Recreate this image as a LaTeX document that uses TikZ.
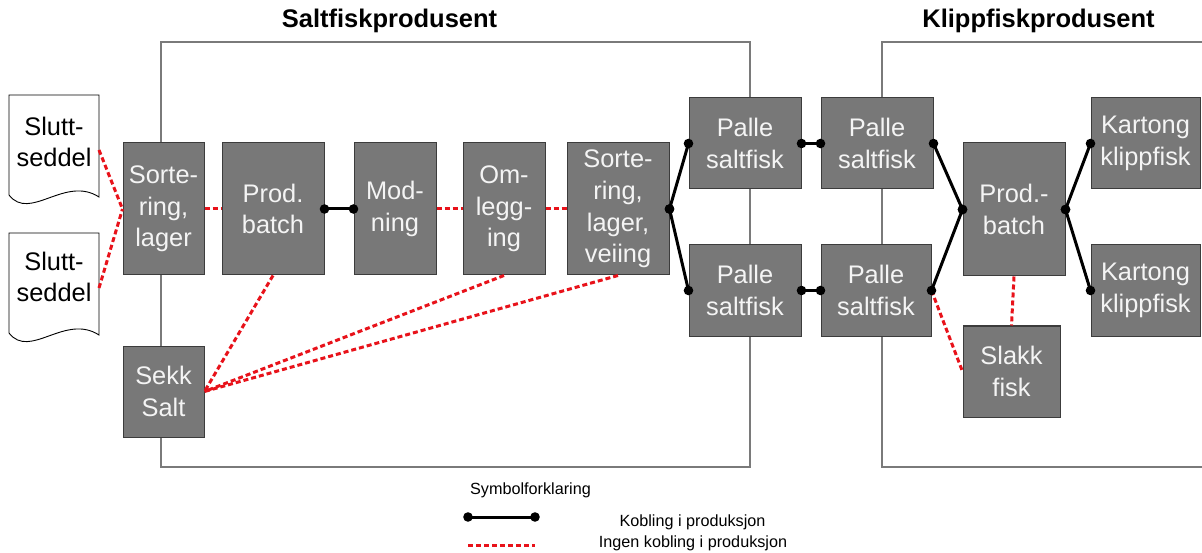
\documentclass[tikz,border=0pt]{standalone}
\usepackage{fontspec}
\setmainfont{Liberation Sans}
\definecolor{boxfill}{HTML}{787878}
\definecolor{boxline}{HTML}{3C3C3C}
\definecolor{boxtext}{HTML}{F4F4F4}
\definecolor{framec}{HTML}{7A7A7A}
\definecolor{redd}{HTML}{E8121A}
\newcommand\kob[2]{\draw[kline] (#1) -- (#2); \fill (#1) circle (4.8pt); \fill (#2) circle (4.8pt);}
\begin{document}
\begin{tikzpicture}[x=1pt,y=-1pt,
  box/.style={draw=boxline, line width=1pt, fill=boxfill, text=boxtext, inner sep=0pt,
    align=center, font=\fontsize{25.4}{31.7}\selectfont},
  frame/.style={draw=framec, line width=1.2pt},
  kline/.style={black, line width=3pt},
  rline/.style={redd, line width=3pt, dash pattern=on 5pt off 3pt},
  title/.style={font=\fontsize{25.5}{30}\selectfont\bfseries},
  legtext/.style={font=\fontsize{16.2}{19}\selectfont, inner sep=0pt},
  doctext/.style={font=\fontsize{25.4}{31.7}\selectfont, align=center, inner sep=0pt}]
\useasboundingbox (0,0) rectangle (1202,553);
\fill[white] (0,0) rectangle (1202,553);

% frames
\draw[frame] (161,42) rectangle (750,467);
\draw[frame] (1202,42) -- (882,42) -- (882,467) -- (1202,467);
\node[title] (t1) at (389.5,21) {Saltfiskprodusent};
\node[title] (t2) at (1038.5,21) {Klippfiskprodusent};

% documents
\draw[black, line width=0.9pt, fill=white] (9,95) -- (99,95) -- (99,197)
  .. controls (65,175) and (30,222) .. (9,195) -- cycle;
\draw[black, line width=0.9pt, fill=white] (9,233) -- (99,233) -- (99,335)
  .. controls (65,313) and (30,360) .. (9,333) -- cycle;
\node[doctext] (d1) at (54,142) {Slutt-\\seddel};
\node[doctext] (d2) at (54,277) {Slutt-\\seddel};
\coordinate (d1e) at (99,150);
\coordinate (d2e) at (99,288);

% boxes - Saltfisk
\node[box, minimum width=81pt, minimum height=132pt] (sort1) at (163.5,209) {Sorte-\\ring,\\lager};
\node[box, minimum width=102pt, minimum height=132pt] (prod) at (273,209) {Prod.\\batch};
\node[box, minimum width=82pt, minimum height=132pt] (mod) at (395,209) {Mod-\\ning};
\node[box, minimum width=82pt, minimum height=132pt] (oml) at (504,209) {Om-\\legg-\\ing};
\node[box, minimum width=102pt, minimum height=132pt] (sort2) at (618,209) {Sorte-\\ring,\\lager,\\veiing};
\node[box, minimum width=81pt, minimum height=91pt] (sekk) at (163.5,391.5) {Sekk\\Salt};

% palle
\node[box, minimum width=112pt, minimum height=91pt] (pTL) at (745,143.5) {Palle\\saltfisk};
\node[box, minimum width=112pt, minimum height=91pt] (pTR) at (877,143.5) {Palle\\saltfisk};
\node[box, minimum width=112pt, minimum height=91pt] (pBL) at (745,290.5) {Palle\\saltfisk};
\node[box, minimum width=110pt, minimum height=91pt] (pBR) at (876,290.5) {Palle\\saltfisk};

% klippfisk
\node[box, minimum width=102pt, minimum height=133pt] (pb2) at (1014,209.5) {Prod.-\\batch};
\node[box, minimum width=109pt, minimum height=91pt] (kT) at (1145.5,143.5) {Kartong\\klippfisk};
\node[box, minimum width=109pt, minimum height=91pt] (kB) at (1145.5,290.5) {Kartong\\klippfisk};
\node[box, minimum width=97pt, minimum height=91pt] (slakk) at (1011.5,371.5) {Slakk\\fisk};

% red dashed connectors
\draw[rline] (d1e) -- (sort1.west);
\draw[rline] (d2e) -- (sort1.west);
\draw[rline] (sort1.east) -- (prod.west);
\draw[rline] (mod.east) -- (oml.west);
\draw[rline] (oml.east) -- (sort2.west);
\draw[rline] (prod.south) -- (sekk.east);
\draw[rline] (oml.south) -- (sekk.east);
\draw[rline] (sort2.south) -- (sekk.east);
\draw[rline] (pBR.east) -- (slakk.west);
\draw[rline] (pb2.south) -- (slakk.north);

% black connectors
\kob{prod.east}{mod.west}
\kob{sort2.east}{pTL.west}
\kob{sort2.east}{pBL.west}
\kob{pTL.east}{pTR.west}
\kob{pBL.east}{pBR.west}
\kob{pTR.east}{pb2.west}
\kob{pBR.east}{pb2.west}
\kob{pb2.east}{kT.west}
\kob{pb2.east}{kB.west}

% legend
\node[legtext] (leg) at (530.5,490) {Symbolforklaring};
\coordinate (la) at (468,517);
\coordinate (lb) at (535,517);
\coordinate (lc) at (468,545);
\coordinate (ld) at (535,545);
\kob{la}{lb}
\draw[rline] (lc) -- (ld);
\node[legtext] (lk) at (692.5,522) {Kobling i produksjon};
\node[legtext] (li) at (693,543) {Ingen kobling i produksjon};
\end{tikzpicture}
\end{document}
